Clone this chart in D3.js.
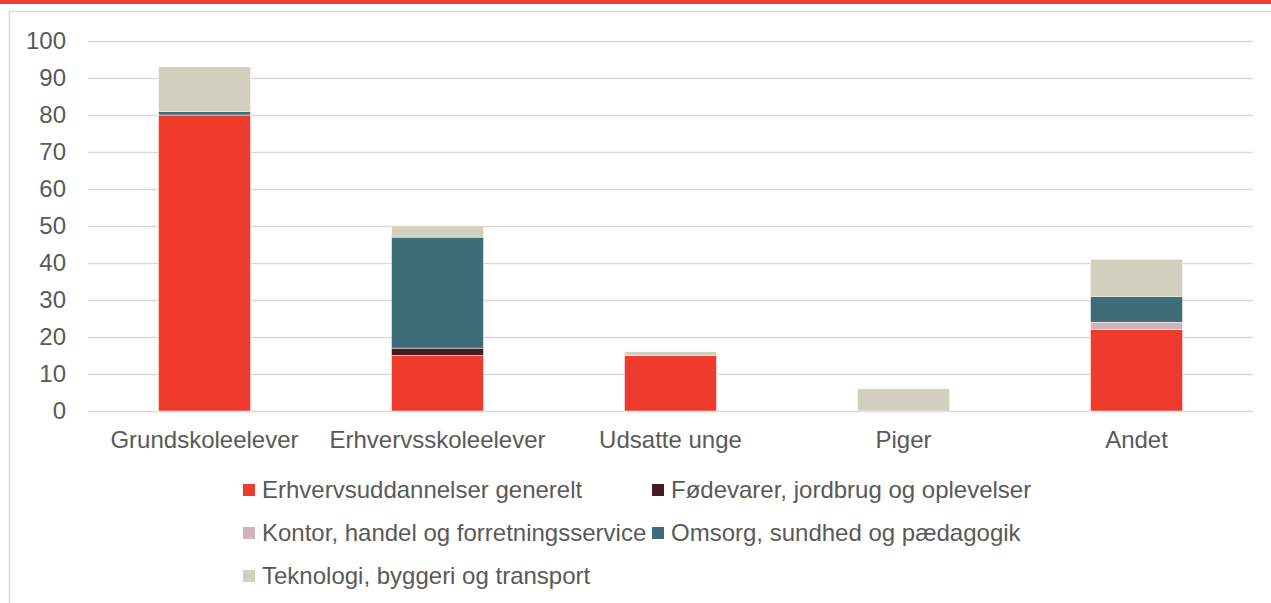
<!DOCTYPE html>
<html>
<head>
<meta charset="utf-8">
<script src="https://cdn.jsdelivr.net/npm/d3@7"></script>
<style>
  body { margin: 0; background: #fff; }
  svg { display: block; font-family: "Liberation Sans", Arial, sans-serif; }
</style>
</head>
<body>
<div id="chart"></div>
<script>
const categories = ["Grundskoleelever", "Erhvervsskoleelever", "Udsatte unge", "Piger", "Andet"];
const seriesNames = [
  "Erhvervsuddannelser generelt",
  "Fødevarer, jordbrug og oplevelser",
  "Kontor, handel og forretningsservice",
  "Omsorg, sundhed og pædagogik",
  "Teknologi, byggeri og transport"
];
const erhverv   = [80, 15, 15, 0, 22];
const fodevarer = [0, 2, 0, 0, 0];
const kontor    = [0, 0, 0, 0, 2];
const omsorg    = [1, 30, 0, 0, 7];
const teknologi = [12, 3, 1, 6, 10];
const yTicks = [0, 10, 20, 30, 40, 50, 60, 70, 80, 90, 100];
const colors = ["#ee3b2e", "#451c24", "#cfb5ba", "#3e6d78", "#d1d0be"];

const W = 1271, H = 603;
const margin = { top: 41, right: 18, bottom: 192, left: 88 };
const innerW = W - margin.left - margin.right;
const innerH = H - margin.top - margin.bottom;
const fontSize = 24;

const table = categories.map((c, i) => ({
  cat: c, s0: erhverv[i], s1: fodevarer[i], s2: kontor[i], s3: omsorg[i], s4: teknologi[i]
}));
const keys = ["s0", "s1", "s2", "s3", "s4"];
const stacked = d3.stack().keys(keys)(table);

const svg = d3.select("#chart").append("svg")
  .attr("width", W).attr("height", H);

// red strip and frame
svg.append("rect").attr("x", 0).attr("y", 0).attr("width", W).attr("height", 4).attr("fill", "#ee3b2e");
svg.append("path").attr("d", `M9.5,${H} V11.5 H${W}`)
  .attr("fill", "none").attr("stroke", "#d9d9d9").attr("stroke-width", 1.5);

const g = svg.append("g").attr("transform", `translate(${margin.left},${margin.top})`);

const x = d3.scaleBand().domain(categories).range([0, innerW]).paddingInner(0.605).paddingOuter(0.3025);
const y = d3.scaleLinear().domain([0, 100]).range([innerH, 0]);

// gridlines
g.append("g").selectAll("line").data(yTicks).join("line")
  .attr("x1", 0).attr("x2", innerW)
  .attr("y1", d => Math.round(y(d)) + 0.5).attr("y2", d => Math.round(y(d)) + 0.5)
  .attr("stroke", "#d9d9d9").attr("stroke-width", 1.5);

// y axis labels
const yAxis = g.append("g")
  .call(d3.axisLeft(y).tickValues(yTicks).tickSize(0).tickPadding(22));
yAxis.select(".domain").remove();
yAxis.selectAll("text").attr("font-size", fontSize).attr("fill", "#595959")
  .attr("font-family", "Liberation Sans, Arial, sans-serif");

// bars
g.append("g").selectAll("g").data(stacked).join("g")
  .attr("fill", (d, i) => colors[i])
  .selectAll("rect").data(d => d.filter(p => p[1] - p[0] > 0)).join("rect")
  .attr("x", d => x(d.data.cat))
  .attr("y", d => y(d[1]))
  .attr("width", x.bandwidth())
  .attr("height", d => y(d[0]) - y(d[1]))
  .attr("stroke", "#fff").attr("stroke-width", 0.5);

// x axis labels
const xAxis = g.append("g").attr("transform", `translate(0,${innerH})`)
  .call(d3.axisBottom(x).tickSize(0).tickPadding(20));
xAxis.select(".domain").remove();
xAxis.selectAll("text").attr("font-size", fontSize).attr("fill", "#595959")
  .attr("font-family", "Liberation Sans, Arial, sans-serif");

// legend
const legendPos = [[243, 490], [652, 490], [243, 533], [652, 533], [243, 576]];
const legend = svg.append("g").selectAll("g").data(seriesNames).join("g")
  .attr("transform", (d, i) => `translate(${legendPos[i][0]},${legendPos[i][1]})`);
legend.append("rect").attr("x", 0).attr("y", -6).attr("width", 12).attr("height", 12)
  .attr("fill", (d, i) => colors[i]);
legend.append("text").attr("x", 19).attr("y", 0).attr("dy", "0.35em")
  .attr("font-size", fontSize).attr("fill", "#595959").text(d => d);
</script>
</body>
</html>
